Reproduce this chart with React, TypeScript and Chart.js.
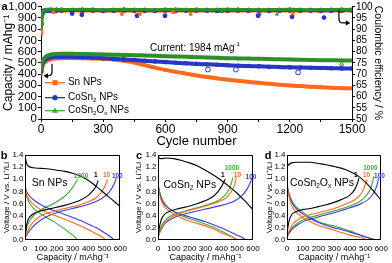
import React, { useEffect, useRef } from 'react';
import { Chart, registerables } from 'chart.js';

Chart.register(...registerables);

const FONT = '"Liberation Sans", Arial, Helvetica, sans-serif';
const ORANGE = '#FF6A1A';
const BLUE = '#2536C8';
const GREEN = '#2E8E2A';
const L_GREEN = '#3DA832';
const L_BLUE = '#3B3BE0';
const BLACK = '#000000';

// ---------------- Panel a: cycling data ----------------
const cycles = [1, 5, 10, 20, 30, 40, 50, 75, 100, 150, 200, 250, 300, 350, 400, 450, 500, 550, 600, 650, 700, 750, 800, 850, 900, 950, 1000, 1050, 1100, 1150, 1200, 1250, 1300, 1350, 1400, 1450, 1500];
const snCap = [400, 455, 485, 508, 520, 528, 533, 539, 542, 543, 542, 540, 536, 529, 519, 502, 480, 458, 438, 420, 404, 388, 374, 361, 350, 340, 331, 322, 314, 306, 299, 293, 287, 282, 278, 275, 272];
const coCap = [425, 475, 505, 528, 540, 547, 551, 554, 555, 553, 550, 546, 542, 537, 531, 525, 519, 513, 507, 501, 496, 491, 487, 483, 479, 475, 472, 469, 466, 463, 460, 458, 456, 454, 452, 451, 450];
const coOxCap = [435, 495, 525, 550, 563, 570, 575, 579, 581, 581, 579, 577, 575, 573, 571, 569, 566, 563, 560, 557, 554, 551, 548, 545, 542, 540, 538, 536, 534, 532, 530, 528, 526, 524, 523, 522, 521];
const snCE = [88.0, 96.0, 97.6, 98.0, 98.1, 98.2, 98.2, 98.3, 98.2, 98.3, 98.2, 98.2, 98.3, 98.1, 98.2, 98.3, 98.2, 98.2, 98.1, 98.3, 98.2, 98.2, 98.3, 98.2, 98.1, 98.2, 98.3, 98.2, 98.2, 98.3, 98.1, 98.2, 98.2, 98.3, 98.2, 98.2, 98.3];
const coCE = [92.3, 96.8, 97.9, 98.3, 98.4, 98.4, 98.5, 98.4, 98.5, 98.4, 98.4, 98.5, 98.3, 98.4, 98.5, 98.4, 98.4, 98.3, 98.5, 98.4, 98.4, 98.5, 98.4, 98.3, 98.4, 98.5, 98.4, 98.4, 98.3, 98.4, 98.5, 98.4, 98.4, 98.3, 98.4, 98.4, 98.5];
const coOxCE = [90.8, 96.3, 97.8, 98.5, 98.6, 98.7, 98.7, 98.8, 98.7, 98.7, 98.8, 98.7, 98.6, 98.7, 98.8, 98.7, 98.7, 98.6, 98.7, 98.8, 98.7, 98.7, 98.6, 98.7, 98.8, 98.7, 98.7, 98.6, 98.7, 98.7, 98.8, 98.7, 98.6, 98.7, 98.7, 98.8, 98.7];
const snCEOutCycles = [60, 390, 477, 638, 722, 1215];
const snCEOutValues = [97.5, 96.7, 96.7, 97.5, 96.8, 97.0];
const coCEOutCycles = [150, 197, 463, 598, 1047, 1211, 1365];
const coCEOutValues = [97.0, 96.4, 96.0, 96.0, 96.0, 95.5, 95.2];
const coOxCEOutCycles = [873, 1056, 1138];
const coOxCEOutValues = [97.8, 96.8, 96.6];
const coCapOpenCycles = [805, 940, 1240];
const coCapOpenValues = [440, 440, 415];
const coOxCapOpenCycles = [1450];
const coOxCapOpenValues = [490];
const cycleTickLabels = [0, 300, 600, 900, 1200, 1500];

// ---------------- Panels b-d: voltage profiles [capacity, voltage] ----------------
const snFirstDischarge = [[0, 1.4], [5, 1.32], [12, 1.25], [25, 1.21], [50, 1.19], [100, 1.18], [150, 1.17], [200, 1.15], [250, 1.13], [300, 1.1], [350, 1.05], [400, 0.98], [450, 0.88], [500, 0.77], [550, 0.66], [600, 0.55]];
const snFirstCharge = [[0, 0.04], [5, 0.15], [15, 0.3], [30, 0.38], [60, 0.44], [100, 0.48], [150, 0.51], [200, 0.54], [250, 0.57], [300, 0.61], [350, 0.66], [400, 0.74], [430, 0.82], [450, 0.9], [460, 0.98]];
const sn10Discharge = [[0, 0.88], [10, 0.75], [30, 0.65], [60, 0.57], [100, 0.5], [150, 0.44], [200, 0.39], [250, 0.34], [300, 0.29], [350, 0.23], [400, 0.17], [450, 0.1], [490, 0.04], [510, 0]];
const sn10Charge = [[0, 0.02], [10, 0.1], [30, 0.22], [60, 0.32], [100, 0.4], [150, 0.45], [200, 0.49], [300, 0.55], [400, 0.63], [450, 0.7], [490, 0.82], [510, 0.93], [520, 1.0]];
const sn100Discharge = [[0, 0.9], [10, 0.8], [30, 0.72], [60, 0.65], [100, 0.58], [150, 0.52], [200, 0.47], [250, 0.42], [300, 0.37], [350, 0.32], [400, 0.26], [450, 0.2], [500, 0.12], [540, 0.05], [560, 0]];
const sn100Charge = [[0, 0.03], [20, 0.12], [50, 0.22], [100, 0.33], [150, 0.4], [200, 0.45], [300, 0.52], [400, 0.59], [480, 0.68], [530, 0.79], [560, 0.92], [575, 1.02]];
const sn1000Discharge = [[0, 0.85], [10, 0.72], [25, 0.62], [50, 0.53], [100, 0.43], [150, 0.35], [200, 0.27], [250, 0.18], [300, 0.08], [325, 0.02], [330, 0]];
const sn1000Charge = [[0, 0.05], [10, 0.2], [30, 0.32], [60, 0.42], [100, 0.5], [150, 0.56], [200, 0.63], [250, 0.72], [290, 0.83], [320, 0.95], [330, 1.0]];

const coFirstDischarge = [[0, 1.39], [8, 1.35], [20, 1.34], [50, 1.35], [100, 1.34], [150, 1.31], [200, 1.27], [250, 1.22], [300, 1.15], [350, 1.07], [400, 0.98], [450, 0.88], [500, 0.77], [550, 0.64], [600, 0.5]];
const coFirstCharge = [[0, 0.05], [8, 0.2], [20, 0.33], [40, 0.42], [80, 0.48], [120, 0.51], [200, 0.56], [250, 0.6], [300, 0.65], [350, 0.72], [380, 0.8], [405, 0.9], [425, 1.0]];
const co10Discharge = [[0, 0.9], [10, 0.75], [25, 0.62], [50, 0.52], [100, 0.43], [150, 0.36], [200, 0.31], [250, 0.27], [300, 0.23], [350, 0.18], [400, 0.12], [450, 0.07], [490, 0.02], [505, 0]];
const co10Charge = [[0, 0.03], [10, 0.12], [30, 0.24], [60, 0.33], [100, 0.4], [150, 0.45], [200, 0.49], [300, 0.56], [400, 0.65], [440, 0.72], [470, 0.83], [485, 0.93], [494, 1.03]];
const co100Discharge = [[0, 0.9], [10, 0.78], [25, 0.66], [50, 0.56], [100, 0.47], [150, 0.42], [200, 0.38], [250, 0.34], [300, 0.3], [350, 0.25], [400, 0.2], [450, 0.14], [500, 0.08], [540, 0.03], [557, 0]];
const co100Charge = [[0, 0.05], [15, 0.15], [40, 0.26], [80, 0.34], [120, 0.39], [200, 0.45], [300, 0.51], [400, 0.57], [480, 0.64], [530, 0.73], [565, 0.85], [585, 0.96], [592, 1.02]];
const co1000Discharge = [[0, 0.93], [10, 0.8], [25, 0.68], [50, 0.57], [100, 0.47], [150, 0.4], [200, 0.35], [250, 0.31], [300, 0.26], [350, 0.21], [400, 0.15], [450, 0.08], [480, 0.03], [490, 0]];
const co1000Charge = [[0, 0.05], [10, 0.15], [30, 0.27], [60, 0.36], [100, 0.42], [150, 0.46], [200, 0.5], [300, 0.57], [380, 0.65], [420, 0.73], [450, 0.84], [465, 0.95], [473, 1.03]];

const coxFirstDischarge = [[0, 1.21], [10, 1.24], [30, 1.27], [60, 1.28], [100, 1.28], [150, 1.28], [200, 1.26], [250, 1.24], [300, 1.21], [350, 1.18], [400, 1.13], [450, 1.06], [500, 0.95], [550, 0.81], [600, 0.65]];
const coxFirstCharge = [[0, 0.1], [5, 0.2], [15, 0.33], [30, 0.42], [60, 0.47], [100, 0.5], [150, 0.52], [200, 0.55], [250, 0.58], [300, 0.62], [350, 0.67], [400, 0.74], [430, 0.83], [450, 0.95], [458, 1.02]];
const cox10Discharge = [[0, 0.9], [10, 0.75], [25, 0.6], [50, 0.48], [100, 0.37], [150, 0.3], [200, 0.24], [250, 0.2], [300, 0.16], [350, 0.12], [400, 0.08], [450, 0.05], [490, 0.02], [506, 0]];
const cox10Charge = [[0, 0.05], [10, 0.13], [30, 0.24], [60, 0.32], [100, 0.38], [150, 0.42], [200, 0.45], [300, 0.52], [400, 0.62], [450, 0.7], [480, 0.8], [500, 0.93], [508, 1.0]];
const cox100Discharge = [[0, 0.9], [10, 0.77], [25, 0.65], [50, 0.54], [100, 0.43], [150, 0.35], [200, 0.29], [250, 0.24], [300, 0.2], [350, 0.17], [400, 0.13], [450, 0.09], [500, 0.05], [569, 0]];
const cox100Charge = [[0, 0.05], [15, 0.12], [40, 0.2], [80, 0.27], [120, 0.32], [200, 0.38], [300, 0.45], [400, 0.53], [480, 0.61], [530, 0.7], [560, 0.82], [575, 0.93], [582, 1.02]];
const cox1000Discharge = [[0, 0.92], [10, 0.8], [25, 0.68], [50, 0.57], [100, 0.46], [150, 0.37], [200, 0.3], [250, 0.26], [300, 0.23], [350, 0.19], [400, 0.15], [450, 0.1], [500, 0.05], [548, 0]];
const cox1000Charge = [[0, 0.05], [15, 0.13], [40, 0.22], [80, 0.3], [120, 0.35], [200, 0.41], [300, 0.48], [400, 0.56], [460, 0.63], [500, 0.72], [530, 0.84], [545, 0.96], [552, 1.05]];

const cycleLabelNames = ['1000', '1', '10', '100'];

// ---------------- helpers ----------------
type Part = [string, number];

function drawRich(ctx: CanvasRenderingContext2D, parts: Part[], x: number, y: number, size: number, color: string) {
  ctx.save();
  ctx.fillStyle = color;
  ctx.textBaseline = 'middle';
  ctx.textAlign = 'left';
  let cx = x;
  for (const [t, m] of parts) {
    const s = m === 0 ? size : size * 0.62;
    ctx.font = `${s}px ${FONT}`;
    const dy = m === 1 ? size * 0.3 : m === 2 ? -size * 0.4 : 0;
    ctx.fillText(t, cx, y + dy);
    cx += ctx.measureText(t).width;
  }
  ctx.restore();
}

function drawMarker(ctx: CanvasRenderingContext2D, style: string, x: number, y: number, r: number, color: string) {
  ctx.fillStyle = color;
  ctx.beginPath();
  if (style === 'rect') ctx.rect(x - r, y - r, 2 * r, 2 * r);
  else if (style === 'circle') ctx.arc(x, y, r, 0, Math.PI * 2);
  else {
    ctx.moveTo(x, y - r * 1.2);
    ctx.lineTo(x + r * 1.15, y + r * 0.8);
    ctx.lineTo(x - r * 1.15, y + r * 0.8);
    ctx.closePath();
  }
  ctx.fill();
}

const xy = (xs: number[], ys: number[]) => xs.map((x, i) => ({ x, y: ys[i] }));
const pairs = (p: number[][]) => p.map(([x, y]) => ({ x, y }));

// ---------------- Panel a config ----------------
function cycleConfig(): any {
  const capLine = (label: string, data: any, color: string, style: string, order: number) => ({
    label, data, yAxisID: 'y', borderColor: color, backgroundColor: color, borderWidth: 4,
    pointStyle: style, pointRadius: 2.3, pointBorderWidth: 0, order, cubicInterpolationMode: 'monotone',
  });
  const ceLine = (label: string, data: any, color: string, style: string, order: number) => ({
    label, data, yAxisID: 'y1', borderColor: color, backgroundColor: color, borderWidth: 3.2,
    pointStyle: style, pointRadius: 2.6, pointBorderWidth: 0, order,
  });
  const pts = (label: string, data: any, axis: string, color: string, style: string, open: boolean) => ({
    label, data, yAxisID: axis, showLine: false, borderColor: color, backgroundColor: open ? '#fff' : color,
    pointStyle: style, pointRadius: 2.4, pointBorderWidth: open ? 1 : 0, order: -1,
  });

  const decor = {
    id: 'aDecor',
    afterDraw(chart: any) {
      const { ctx } = chart;
      const x = chart.scales.x, y = chart.scales.y, y1 = chart.scales.y1;
      ctx.save();
      ctx.fillStyle = '#000';
      ctx.font = `bold 11px ${FONT}`;
      ctx.textBaseline = 'middle';
      ctx.textAlign = 'left';
      ctx.fillText('a', 1.5, 7);

      drawRich(ctx, [['Current: 1984 mAg', 0], ['-1', 2]], x.getPixelForValue(526), y.getPixelForValue(626), 10, '#000');

      // arrow to left axis
      ctx.strokeStyle = '#000';
      ctx.fillStyle = '#000';
      ctx.lineWidth = 1.2;
      let sx = x.getPixelForValue(53), sy = y.getPixelForValue(492), ey = y.getPixelForValue(385), ex = x.getPixelForValue(12);
      ctx.beginPath();
      ctx.moveTo(sx, sy);
      ctx.lineTo(sx, ey - 4);
      ctx.quadraticCurveTo(sx, ey, sx - 4, ey);
      ctx.lineTo(ex + 3, ey);
      ctx.stroke();
      ctx.beginPath();
      ctx.moveTo(ex, ey); ctx.lineTo(ex + 4.5, ey - 2.6); ctx.lineTo(ex + 4.5, ey + 2.6); ctx.closePath(); ctx.fill();

      // arrow to right axis
      sx = x.getPixelForValue(1437); sy = y1.getPixelForValue(98.6); ey = y1.getPixelForValue(92.8); ex = x.getPixelForValue(1492);
      ctx.beginPath();
      ctx.moveTo(sx, sy);
      ctx.lineTo(sx, ey - 4);
      ctx.quadraticCurveTo(sx, ey, sx + 4, ey);
      ctx.lineTo(ex - 3, ey);
      ctx.stroke();
      ctx.beginPath();
      ctx.moveTo(ex, ey); ctx.lineTo(ex - 4.5, ey - 2.6); ctx.lineTo(ex - 4.5, ey + 2.6); ctx.closePath(); ctx.fill();

      // legend
      const items: [string, string, Part[], number][] = [
        [ORANGE, 'rect', [['Sn NPs', 0]], 323],
        [BLUE, 'circle', [['CoSn', 0], ['2', 1], [' NPs', 0]], 190],
        [L_GREEN, 'triangle', [['CoSn', 0], ['2', 1], ['O', 0], ['x', 1], [' NPs', 0]], 74],
      ];
      for (const [color, style, parts, cap] of items) {
        const ly = y.getPixelForValue(cap);
        const x0 = x.getPixelForValue(19), x1 = x.getPixelForValue(116);
        ctx.strokeStyle = color;
        ctx.lineWidth = 1.3;
        ctx.beginPath(); ctx.moveTo(x0, ly); ctx.lineTo(x1, ly); ctx.stroke();
        drawMarker(ctx, style, (x0 + x1) / 2, ly, 2.6, color);
        drawRich(ctx, parts, x.getPixelForValue(130), ly, 10, '#000');
      }
      ctx.restore();
    },
  };

  return {
    type: 'line',
    data: {
      datasets: [
        pts('snOut', xy(snCEOutCycles, snCEOutValues), 'y1', ORANGE, 'rect', false),
        pts('coOut', xy(coCEOutCycles, coCEOutValues), 'y1', BLUE, 'circle', false),
        pts('coxOut', xy(coOxCEOutCycles, coOxCEOutValues), 'y1', GREEN, 'triangle', false),
        pts('coOpen', xy(coCapOpenCycles, coCapOpenValues), 'y', BLUE, 'circle', true),
        pts('coxOpen', xy(coOxCapOpenCycles, coOxCapOpenValues), 'y', GREEN, 'triangle', true),
        capLine('CoSn2Ox NPs', xy(cycles, coOxCap), GREEN, 'triangle', 0),
        capLine('CoSn2 NPs', xy(cycles, coCap), BLUE, 'circle', 1),
        capLine('Sn NPs', xy(cycles, snCap), ORANGE, 'rect', 2),
        ceLine('CE CoSn2Ox', xy(cycles, coOxCE), GREEN, 'triangle', 0),
        ceLine('CE CoSn2', xy(cycles, coCE), BLUE, 'circle', 1),
        ceLine('CE Sn', xy(cycles, snCE), ORANGE, 'rect', 2),
      ],
    },
    options: {
      responsive: false,
      animation: false,
      layout: { padding: { top: 6, right: 6, left: 0, bottom: 0 } },
      plugins: { legend: { display: false }, tooltip: { enabled: false } },
      scales: {
        x: {
          type: 'linear', min: 0, max: 1500,
          afterFit: (s: any) => { s.height = 31; },
          ticks: {
            stepSize: 150, autoSkip: false, maxRotation: 0, padding: 0, color: '#000', font: { size: 12 },
            callback: (v: any) => (cycleTickLabels.includes(Number(v)) ? String(v) : ''),
          },
          grid: { display: true, drawOnChartArea: false, drawTicks: true, tickLength: 3, color: '#000' },
          border: { display: true, color: '#000', width: 1 },
          title: { display: true, text: 'Cycle number', color: '#000', font: { size: 13 }, padding: { top: 0, bottom: 1 } },
        },
        y: {
          type: 'linear', position: 'left', min: 0, max: 1000,
          afterFit: (s: any) => { s.width = 41; },
          ticks: { stepSize: 100, autoSkip: false, padding: 1, color: '#000', font: { size: 11.5, lineHeight: 1 } },
          grid: { display: true, drawOnChartArea: false, drawTicks: true, tickLength: 3, color: '#000' },
          border: { display: true, color: '#000', width: 1 },
          title: { display: true, text: 'Capacity / mAhg⁻¹', color: '#000', font: { size: 12 }, padding: { top: 1, bottom: 0 } },
        },
        y1: {
          type: 'linear', position: 'right', min: 50, max: 100,
          afterFit: (s: any) => { s.width = 34; },
          ticks: { stepSize: 5, autoSkip: false, padding: 1, color: '#000', font: { size: 10, lineHeight: 1 } },
          grid: { display: true, drawOnChartArea: false, drawTicks: true, tickLength: 3, color: '#000' },
          border: { display: true, color: '#000', width: 1 },
          title: { display: true, text: 'Coulombic efficiency / %', color: '#000', font: { size: 10.5 }, padding: { top: 2, bottom: 0 } },
        },
      },
    },
    plugins: [decor],
  };
}

// ---------------- Panels b-d config ----------------
type VoltPanel = {
  curves: [number[][], string][];
  letter: string;
  letterX: number;
  name: Part[];
  namePos: [number, number];
  labelPos: [number, number][];
  yWidth: number;
  padRight: number;
  titlePad: number;
};

function voltConfig(p: VoltPanel): any {
  const labelColors = [L_GREEN, BLACK, ORANGE, L_BLUE];
  const decor = {
    id: 'voltDecor' + p.letter,
    afterDraw(chart: any) {
      const { ctx, chartArea } = chart;
      const x = chart.scales.x, y = chart.scales.y;
      ctx.save();
      ctx.strokeStyle = '#000';
      ctx.lineWidth = 1;
      ctx.strokeRect(Math.round(chartArea.left) + 0.5, Math.round(chartArea.top) + 0.5,
        Math.round(chartArea.right - chartArea.left) - 1, Math.round(chartArea.bottom - chartArea.top) - 1);
      ctx.fillStyle = '#000';
      ctx.font = `bold 11px ${FONT}`;
      ctx.textAlign = 'center';
      ctx.textBaseline = 'middle';
      ctx.fillText(p.letter, p.letterX, chartArea.top + 0.5);
      drawRich(ctx, p.name, x.getPixelForValue(p.namePos[0]), y.getPixelForValue(p.namePos[1]), 10.5, '#000');
      ctx.font = `bold 6.5px ${FONT}`;
      ctx.textAlign = 'center';
      p.labelPos.forEach(([cx, cv], i) => {
        ctx.fillStyle = labelColors[i];
        ctx.fillText(cycleLabelNames[i], x.getPixelForValue(cx), y.getPixelForValue(cv));
      });
      ctx.restore();
    },
  };
  return {
    type: 'line',
    data: {
      datasets: p.curves.map(([pts, color], i) => ({
        label: 'c' + i, data: pairs(pts), borderColor: color, backgroundColor: color,
        borderWidth: 1.1, pointRadius: 0, cubicInterpolationMode: 'monotone',
      })),
    },
    options: {
      responsive: false,
      animation: false,
      layout: { padding: { top: 10, right: p.padRight, left: 0, bottom: 0 } },
      plugins: { legend: { display: false }, tooltip: { enabled: false } },
      scales: {
        x: {
          type: 'linear', min: 0, max: 600,
          afterFit: (s: any) => { s.height = 23; },
          ticks: { stepSize: 100, autoSkip: false, maxRotation: 0, padding: 4, color: '#000', font: { size: 8 } },
          grid: { display: false, drawTicks: false },
          border: { display: false },
          title: { display: true, text: 'Capacity / mAhg⁻¹', color: '#000', font: { size: 9 }, padding: { top: 0, bottom: 0 } },
        },
        y: {
          type: 'linear', min: 0, max: 1.4,
          afterFit: (s: any) => { s.width = p.yWidth; },
          ticks: { stepSize: 0.2, autoSkip: false, padding: 1.5, color: '#000', font: { size: 8 }, callback: (v: any) => Number(v).toFixed(1) },
          grid: { display: false, drawTicks: false },
          border: { display: false },
          title: { display: true, text: 'Voltage / V vs. Li⁺/Li', color: '#000', font: { size: 8 }, padding: { top: p.titlePad, bottom: 0 } },
        },
      },
    },
    plugins: [decor],
  };
}

const panelB: VoltPanel = {
  curves: [
    [snFirstDischarge, BLACK], [snFirstCharge, BLACK],
    [sn10Discharge, ORANGE], [sn10Charge, ORANGE],
    [sn100Discharge, L_BLUE], [sn100Charge, L_BLUE],
    [sn1000Discharge, L_GREEN], [sn1000Charge, L_GREEN],
  ],
  letter: 'b', letterX: 4,
  name: [['Sn NPs', 0]], namePos: [43, 0.94],
  labelPos: [[353, 1.05], [445, 1.07], [513, 1.07], [581, 1.05]],
  yWidth: 25, padRight: 9, titlePad: 2,
};
const panelC: VoltPanel = {
  curves: [
    [coFirstDischarge, BLACK], [coFirstCharge, BLACK],
    [co10Discharge, ORANGE], [co10Charge, ORANGE],
    [co100Discharge, L_BLUE], [co100Charge, L_BLUE],
    [co1000Discharge, L_GREEN], [co1000Charge, L_GREEN],
  ],
  letter: 'c', letterX: 11,
  name: [['CoSn', 0], ['2', 1], [' NPs', 0]], namePos: [35, 0.9],
  labelPos: [[467, 1.19], [410, 1.07], [502, 1.07], [587, 1.04]],
  yWidth: 30, padRight: 11, titlePad: 6,
};
const panelD: VoltPanel = {
  curves: [
    [coxFirstDischarge, BLACK], [coxFirstCharge, BLACK],
    [cox10Discharge, ORANGE], [cox10Charge, ORANGE],
    [cox100Discharge, L_BLUE], [cox100Charge, L_BLUE],
    [cox1000Discharge, L_GREEN], [cox1000Charge, L_GREEN],
  ],
  letter: 'd', letterX: 10,
  name: [['CoSn', 0], ['2', 1], ['O', 0], ['x', 1], [' NPs', 0]], namePos: [19, 0.93],
  labelPos: [[531, 1.19], [438, 1.07], [506, 1.07], [588, 1.05]],
  yWidth: 29, padRight: 9, titlePad: 7,
};

export default function App() {
  const aRef = useRef<HTMLCanvasElement>(null);
  const bRef = useRef<HTMLCanvasElement>(null);
  const cRef = useRef<HTMLCanvasElement>(null);
  const dRef = useRef<HTMLCanvasElement>(null);

  useEffect(() => {
    Chart.defaults.font.family = FONT;
    Chart.defaults.color = '#000';
    const charts = [
      new Chart(aRef.current as HTMLCanvasElement, cycleConfig()),
      new Chart(bRef.current as HTMLCanvasElement, voltConfig(panelB)),
      new Chart(cRef.current as HTMLCanvasElement, voltConfig(panelC)),
      new Chart(dRef.current as HTMLCanvasElement, voltConfig(panelD)),
    ];
    return () => charts.forEach((c) => c.destroy());
  }, []);

  const abs = (left: number, top: number, width: number, height: number): React.CSSProperties => ({
    position: 'absolute', left, top, width, height,
  });

  return (
    <div style={{ position: 'fixed', left: 0, top: 0, width: 392, height: 263, background: '#fff', overflow: 'hidden' }}>
      <canvas ref={aRef} width={392} height={150} style={abs(0, 0, 392, 150)} />
      <canvas ref={bRef} width={131} height={118} style={abs(0, 145, 131, 118)} />
      <canvas ref={cRef} width={136} height={118} style={abs(128, 145, 136, 118)} />
      <canvas ref={dRef} width={134} height={118} style={abs(258, 145, 134, 118)} />
    </div>
  );
}
